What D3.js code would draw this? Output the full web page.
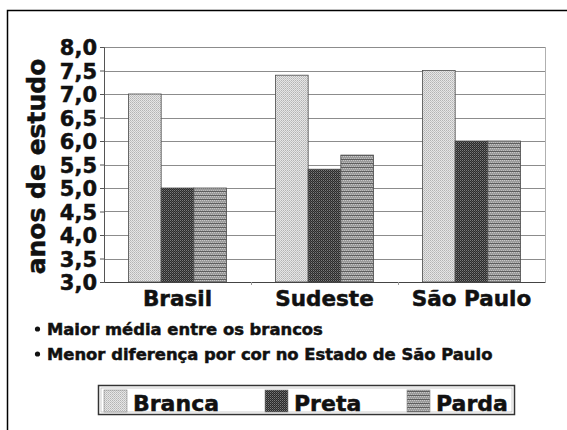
<!DOCTYPE html>
<html>
<head>
<meta charset="utf-8">
<script src="https://cdnjs.cloudflare.com/ajax/libs/d3/7.8.5/d3.min.js"></script>
<style>
  body { margin: 0; background: #fff; }
  text { font-family: "DejaVu Sans", Verdana, sans-serif; font-weight: bold; fill: #111; stroke: #111; stroke-width: 0.5px; }
</style>
</head>
<body>
<div id="chart"></div>
<script>
// data
var categories = ["Brasil", "Sudeste", "São Paulo"];
var series = ["Branca", "Preta", "Parda"];
var branca = [7.0, 7.4, 7.5];
var preta = [5.0, 5.4, 6.0];
var parda = [5.0, 5.7, 6.0];
var yTicks = [3.0, 3.5, 4.0, 4.5, 5.0, 5.5, 6.0, 6.5, 7.0, 7.5, 8.0];
var notes = ["Maior média entre os brancos", "Menor diferença por cor no Estado de São Paulo"];

var values = { Branca: branca, Preta: preta, Parda: parda };

var width = 567, height = 430;
var plot = { left: 104, right: 545, top: 47, bottom: 282 };

var svg = d3.select("#chart")
    .append("svg")
    .attr("width", width)
    .attr("height", height);

// fill patterns
var defs = svg.append("defs");

var pBranca = defs.append("pattern").attr("id", "p-branca")
    .attr("patternUnits", "userSpaceOnUse").attr("width", 2).attr("height", 2);
pBranca.append("rect").attr("width", 2).attr("height", 2).attr("fill", "#e6e6e6");
pBranca.append("rect").attr("width", 1).attr("height", 1).attr("fill", "#b4b4b4");
pBranca.append("rect").attr("x", 1).attr("y", 1).attr("width", 1).attr("height", 1).attr("fill", "#c4c4c4");

var pPreta = defs.append("pattern").attr("id", "p-preta")
    .attr("patternUnits", "userSpaceOnUse").attr("width", 2).attr("height", 2);
pPreta.append("rect").attr("width", 2).attr("height", 2).attr("fill", "#2a2a2a");
pPreta.append("rect").attr("width", 1).attr("height", 1).attr("fill", "#7a7a7a");
pPreta.append("rect").attr("x", 1).attr("y", 1).attr("width", 1).attr("height", 1).attr("fill", "#555");

var pParda = defs.append("pattern").attr("id", "p-parda")
    .attr("patternUnits", "userSpaceOnUse").attr("width", 2).attr("height", 4);
pParda.append("rect").attr("width", 2).attr("height", 4).attr("fill", "#9a9a9a");
pParda.append("rect").attr("width", 1).attr("height", 1).attr("fill", "#c8c8c8");
pParda.append("rect").attr("x", 1).attr("y", 2).attr("width", 1).attr("height", 1).attr("fill", "#bdbdbd");
pParda.append("rect").attr("y", 3).attr("width", 2).attr("height", 1).attr("fill", "#5e5e5e");

var fills = { Branca: "url(#p-branca)", Preta: "url(#p-preta)", Parda: "url(#p-parda)" };

// outer frame
svg.append("path")
    .attr("d", "M7.5," + height + "V10.5H" + width)
    .attr("fill", "none")
    .attr("stroke", "#000")
    .attr("stroke-width", 1.5);

// scales
var x = d3.scaleBand()
    .domain(categories)
    .range([plot.left, plot.right]);

var x1 = d3.scaleBand()
    .domain(series)
    .range([x.bandwidth() / 6, x.bandwidth() * 5 / 6]);

var y = d3.scaleLinear()
    .domain([3, 8])
    .range([plot.bottom, plot.top]);

var fmt = function (d) { return d3.format(".1f")(d).replace(".", ","); };

// gridlines
svg.append("g")
    .selectAll("line")
    .data(yTicks.slice(1))
    .enter()
    .append("line")
    .attr("x1", plot.left)
    .attr("x2", plot.right)
    .attr("y1", function (d) { return Math.round(y(d)) + 0.5; })
    .attr("y2", function (d) { return Math.round(y(d)) + 0.5; })
    .attr("stroke", "#8c8c8c")
    .attr("stroke-width", 1.2);

// right edge of plot area
svg.append("line")
    .attr("x1", plot.right + 0.5).attr("x2", plot.right + 0.5)
    .attr("y1", plot.top).attr("y2", plot.bottom)
    .attr("stroke", "#b0b0b0");

// bars
var groups = svg.append("g")
    .selectAll("g")
    .data(categories)
    .enter()
    .append("g")
    .attr("transform", function (d) { return "translate(" + x(d) + ",0)"; });

groups.selectAll("rect")
    .data(function (c, i) {
        return series.map(function (s) { return { s: s, v: values[s][i] }; });
    })
    .enter()
    .append("rect")
    .attr("x", function (d) { return x1(d.s); })
    .attr("width", x1.bandwidth())
    .attr("y", function (d) { return y(d.v); })
    .attr("height", function (d) { return y(3) - y(d.v); })
    .attr("fill", function (d) { return fills[d.s]; })
    .attr("stroke", "#4a4a4a")
    .attr("stroke-width", 0.8);

// y axis
var yAxis = svg.append("g")
    .attr("transform", "translate(" + plot.left + ",0)")
    .call(d3.axisLeft(y).tickValues(yTicks).tickFormat(fmt).tickSize(4).tickPadding(3));
yAxis.select(".domain").attr("stroke", "#555");
yAxis.selectAll(".tick line").attr("stroke", "#555");
yAxis.selectAll("text")
    .attr("font-size", "21px")
    .attr("font-family", "DejaVu Sans, Verdana, sans-serif")
    .attr("font-weight", "bold")
    .attr("fill", "#111")
    .attr("stroke", "#111")
    .attr("stroke-width", 0.7)
    .attr("dy", "0.36em");

// x axis
var xAxis = svg.append("g")
    .attr("transform", "translate(0," + plot.bottom + ")")
    .call(d3.axisBottom(x).tickSize(0).tickPadding(8));
xAxis.select(".domain").attr("stroke", "#444").attr("stroke-width", 1.2);
xAxis.selectAll("text")
    .attr("font-size", "21.5px")
    .attr("font-family", "DejaVu Sans, Verdana, sans-serif")
    .attr("font-weight", "bold")
    .attr("fill", "#111")
    .attr("stroke", "#111")
    .attr("stroke-width", 0.6)
    .attr("dy", "0.75em");

// little marks between categories
svg.append("g")
    .selectAll("line")
    .data(categories.slice(1))
    .enter()
    .append("line")
    .attr("x1", function (d) { return x(d) + 0.5; })
    .attr("x2", function (d) { return x(d) + 0.5; })
    .attr("y1", plot.bottom)
    .attr("y2", plot.bottom + 3)
    .attr("stroke", "#999");

// y label
svg.append("text")
    .attr("transform", "translate(45," + ((plot.top + plot.bottom) / 2 + 2) + ") rotate(-90)")
    .attr("text-anchor", "middle")
    .attr("font-size", "25px")
    .text("anos de estudo");

// notes
var noteG = svg.append("g");
notes.forEach(function (n, i) {
    var yy = 335 + i * 25;
    noteG.append("circle")
        .attr("cx", 37.5)
        .attr("cy", yy - 6)
        .attr("r", 2.6)
        .attr("fill", "#111");
    noteG.append("text")
        .attr("x", 47)
        .attr("y", yy)
        .attr("font-size", "16.4px")
        .text(n);
});

// legend
var legend = svg.append("g");
legend.append("rect")
    .attr("x", 98.5).attr("y", 385.5)
    .attr("width", 416).attr("height", 29)
    .attr("fill", "#fff")
    .attr("stroke", "#333")
    .attr("stroke-width", 1.5);
legend.append("rect")
    .attr("x", 101).attr("y", 388)
    .attr("width", 411).attr("height", 24)
    .attr("fill", "none")
    .attr("stroke", "#aaa")
    .attr("stroke-width", 0.6);

var legendX = [104, 265, 407];
series.forEach(function (s, i) {
    legend.append("rect")
        .attr("x", legendX[i]).attr("y", 390)
        .attr("width", 23).attr("height", 22)
        .attr("fill", fills[s])
        .attr("stroke", "#888")
        .attr("stroke-width", 0.6);
    legend.append("text")
        .attr("x", legendX[i] + 29)
        .attr("y", 410.5)
        .attr("font-size", "22px")
        .text(s);
});
</script>
</body>
</html>
